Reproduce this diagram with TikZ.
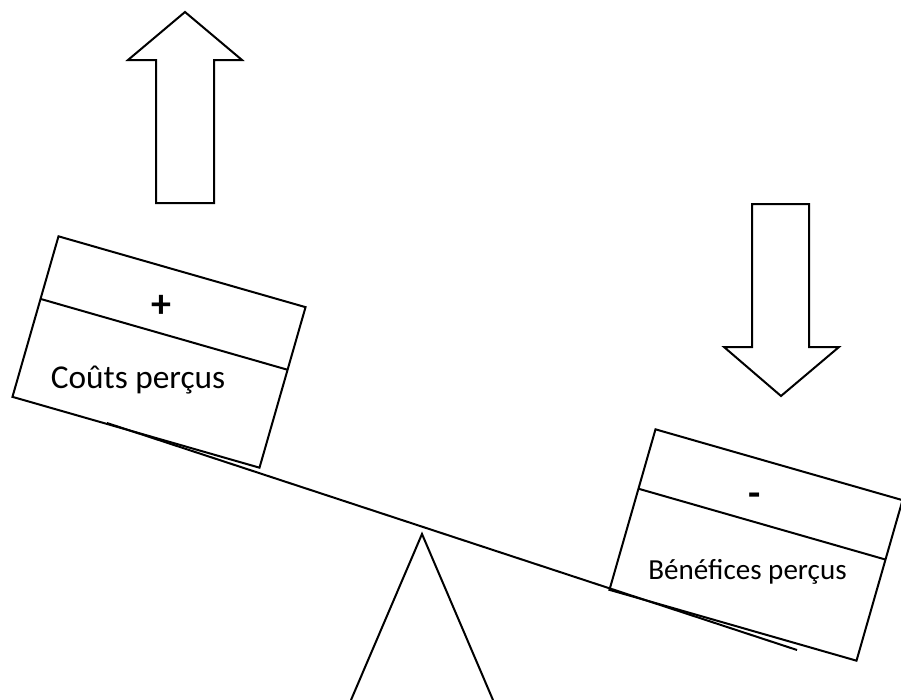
\documentclass[tikz,border=0pt]{standalone}
\usepackage{fontspec}
\setmainfont{Carlito}
\usetikzlibrary{calc}
\begin{document}
\begin{tikzpicture}[x=0.75pt,y=-0.75pt, line width=1.5pt, line join=miter,
  box/.style={draw, rotate=-16, minimum width=192.75pt, minimum height=125.25pt, inner sep=0pt, outer sep=0pt},
  lblL/.style={font=\fontsize{25}{30}\selectfont, inner sep=0pt, anchor=base},
  lblR/.style={font=\fontsize{21.8}{26}\selectfont, inner sep=0pt, anchor=base},
  sign/.style={font=\bfseries\fontsize{30}{36}\selectfont, inner sep=0pt},
  fatarrow/.style={draw, line join=miter}]
\useasboundingbox (0,0) rectangle (901,700);
% fulcrum
\coordinate (fL) at (351,700);
\coordinate (apex) at (422,534);
\coordinate (fR) at (493,700);
\draw (fL) -- (apex) -- (fR);
% beam
\coordinate (bL) at (107,423);
\coordinate (bR) at (797,650);
\draw (bL) -- (bR);
% boxes
\node[box] (lb) at (159,352) {};
\draw ($(lb.north west)!0.39!(lb.south west)$) -- ($(lb.north east)!0.39!(lb.south east)$);
\node[box] (rb) at (756,545) {};
\draw ($(rb.north west)!0.37!(rb.south west)$) -- ($(rb.north east)!0.37!(rb.south east)$);
% texts
\node[sign] (plus) at (161,306) {+};
\node[lblL] (lt) at (138,388) {Coûts perçus};
\node[sign] (minus) at (755,500) {-};
\node[lblR] (rt) at (747.5,579) {Bénéfices perçus};
% arrows
\draw[fatarrow] (156,203) -- (156,60) -- (128,60) -- (185,12) -- (242,60) -- (214,60) -- (214,203) -- cycle;
\draw[fatarrow] (752,204) -- (809,204) -- (809,347) -- (839,347) -- (781,396) -- (724,347) -- (752,347) -- cycle;
\end{tikzpicture}
\end{document}
